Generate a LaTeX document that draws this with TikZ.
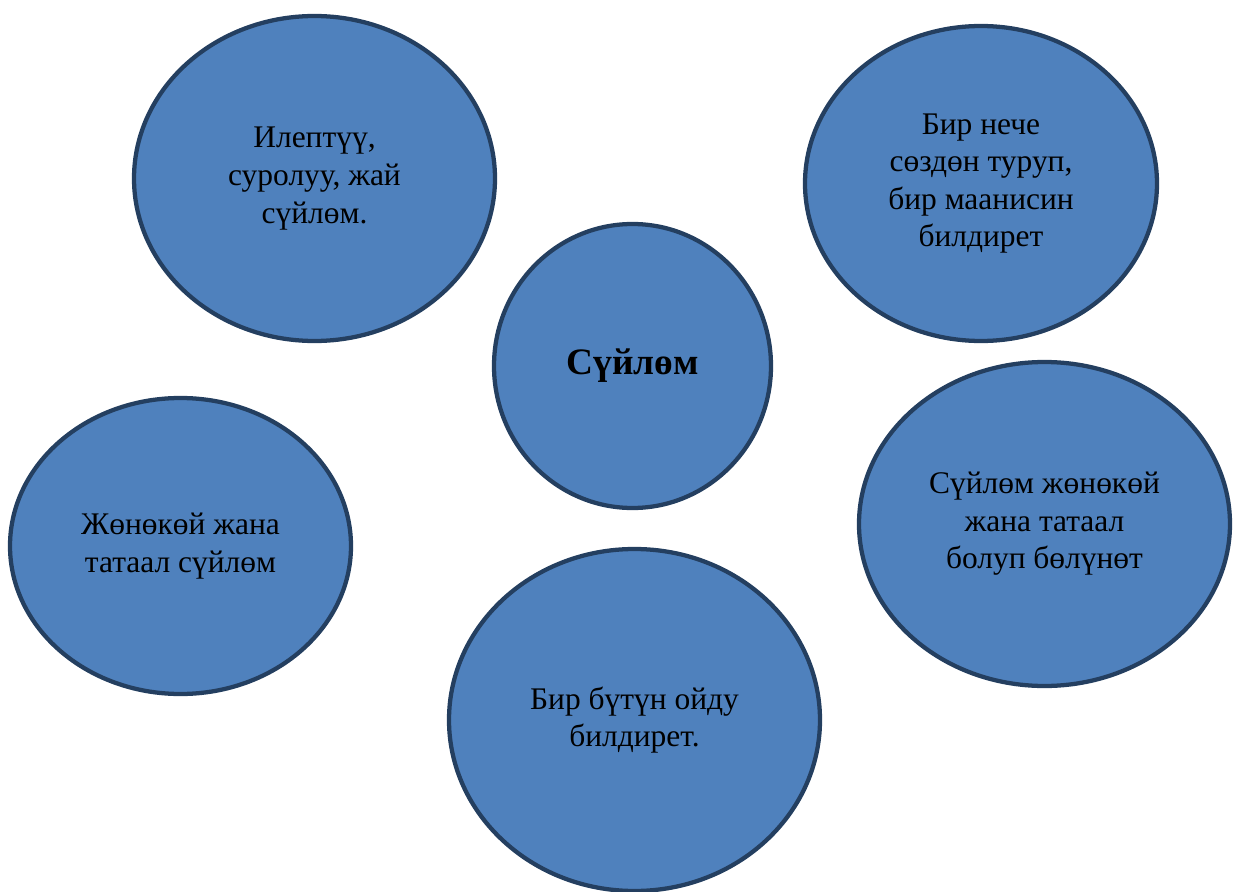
\documentclass[tikz,border=0pt]{standalone}
\usepackage{fontspec}
\setmainfont{Liberation Serif}
\usetikzlibrary{shapes.geometric}
\definecolor{ovalfill}{HTML}{4F81BD}
\definecolor{ovalline}{HTML}{243F60}
\tikzset{
  oval/.style={ellipse, draw=ovalline, fill=ovalfill, line width=3.2pt, inner sep=0pt,
    align=center, font=\fontsize{23.6}{28.2}\selectfont}
}
\begin{document}
\begin{tikzpicture}[x=0.75pt,y=-0.75pt]
\useasboundingbox (0,0) rectangle (1233,892);
\node[oval, minimum width=270.75pt, minimum height=243.75pt] (ilep) at (314.5,178.5) {Илептүү,\\ суролуу, жай\\ сүйлөм.};
\node[oval, minimum width=264pt, minimum height=236.25pt] (birneche) at (981,183.5) {Бир нече\\ сөздөн туруп,\\ бир маанисин\\ билдирет};
\node[oval, minimum width=207.75pt, minimum height=213pt, font=\fontsize{28}{33}\selectfont\bfseries] (main) at (632.5,366) {Сүйлөм};
%lower row
\node[oval, minimum width=255.75pt, minimum height=222pt] (jonokoy) at (180.5,546) {Жөнөкөй жана\\ татаал сүйлөм};
\node[oval, minimum width=278.25pt, minimum height=243pt] (bolunot) at (1044.5,524) {Сүйлөм жөнөкөй\\ жана татаал\\ болуп бөлүнөт};
\node[oval, minimum width=278.25pt, minimum height=256.5pt] (oy) at (634.5,720) {Бир бүтүн ойду\\ билдирет.};
\end{tikzpicture}
\end{document}
